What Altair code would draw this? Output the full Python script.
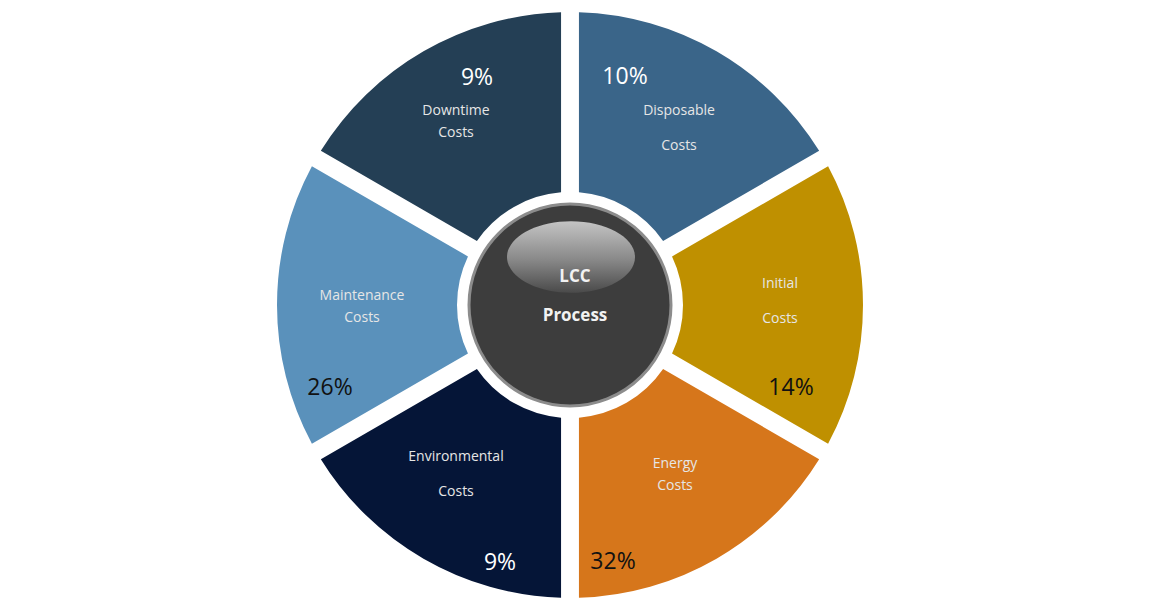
import altair as alt
import pandas as pd

# ---- data ----
names = ["Disposable", "Initial", "Energy", "Environmental", "Maintenance", "Downtime"]
pcts = ["10%", "14%", "32%", "9%", "26%", "9%"]
colors = ["#3a6589", "#bf9000", "#d6761b", "#051537", "#5a91bb", "#243f55"]
pct_tone = ["light", "dark", "dark", "light", "dark", "light"]
line1 = ["Disposable", "Initial", "Energy", "Environmental", "Maintenance", "Downtime"]
line2 = ["Costs", "Costs", "Costs", "Costs", "Costs", "Costs"]

# label layout (view pixels)
line1_xy = [(671, 103), (772, 276), (667, 456), (448, 449), (354, 288), (448, 103)]
line2_xy = [(671, 138), (772, 311), (667, 478), (448, 484), (354, 310), (448, 125)]
pct_xy = [(617, 69), (783, 380), (605, 554), (492, 555), (322, 380), (469, 70)]

W, H = 1130, 592
CX, CY = 562, 297

seg = pd.DataFrame({"name": names, "slot": [1] * 6, "idx": list(range(6))})

xs = alt.Scale(domain=[0, W], range=[0, W], zero=False, nice=False)
ys = alt.Scale(domain=[0, H], range=[0, H], zero=False, nice=False)

arcs = alt.Chart(seg).mark_arc(innerRadius=113, outerRadius=293, padAngle=0.057).encode(
    theta=alt.Theta("slot:Q", stack=True),
    order=alt.Order("idx:Q"),
    color=alt.Color("name:N", scale=alt.Scale(domain=names, range=colors), legend=None),
    x=alt.value(CX),
    y=alt.value(CY),
)

one = pd.DataFrame({"k": [0]})
core = alt.Chart(one).mark_point(
    shape="circle", filled=True, size=202 * 202, fill="#3d3d3d", stroke="#8c8c8c",
    strokeWidth=3, opacity=1
).encode(x=alt.value(CX), y=alt.value(CY))

gloss = alt.Chart(one).mark_point(
    shape="M -1 0 A 1 0.56 0 1 0 1 0 A 1 0.56 0 1 0 -1 0 Z",
    filled=True, size=128 * 128, opacity=1, strokeWidth=0,
    fill=alt.Gradient(
        gradient="linear", x1=0, y1=0, x2=0, y2=1,
        stops=[alt.GradientStop(offset=0, color="#c4c4c4"),
               alt.GradientStop(offset=0.55, color="#878787"),
               alt.GradientStop(offset=1, color="#4a4a4a")],
    ),
).encode(x=alt.value(CX + 1), y=alt.value(249))

center_df = pd.DataFrame({"t": ["LCC", "Process"], "px": [567, 567], "py": [269, 308]})
center_txt = alt.Chart(center_df).mark_text(
    font="Open Sans", fontSize=17, fontWeight="bold", color="#f2f2f2", baseline="middle"
).encode(
    x=alt.X("px:Q", scale=xs, axis=None),
    y=alt.Y("py:Q", scale=ys, axis=None),
    text="t:N",
)

lab_df = pd.DataFrame({
    "t": line1 + line2,
    "px": [p[0] for p in line1_xy] + [p[0] for p in line2_xy],
    "py": [p[1] for p in line1_xy] + [p[1] for p in line2_xy],
})
labels = alt.Chart(lab_df).mark_text(
    font="Open Sans", fontSize=14, color="#e6e6e6", baseline="middle"
).encode(
    x=alt.X("px:Q", scale=xs, axis=None),
    y=alt.Y("py:Q", scale=ys, axis=None),
    text="t:N",
)

pct_df = pd.DataFrame({
    "t": pcts, "tone": pct_tone,
    "px": [p[0] for p in pct_xy], "py": [p[1] for p in pct_xy],
})
pct_labels = alt.Chart(pct_df).mark_text(
    font="Open Sans", fontSize=23, baseline="middle"
).encode(
    x=alt.X("px:Q", scale=xs, axis=None),
    y=alt.Y("py:Q", scale=ys, axis=None),
    text="t:N",
    color=alt.Color("tone:N", scale=alt.Scale(domain=["light", "dark"], range=["#ffffff", "#111111"]), legend=None),
)

chart = alt.layer(arcs, core, gloss, center_txt, labels, pct_labels).resolve_scale(
    color="independent"
).properties(
    width=W, height=H, padding=0, autosize=alt.AutoSizeParams(type="none"), background="white"
).configure_view(stroke=None)

chart.save("out.html", embed_options={"renderer": "svg", "actions": False})
